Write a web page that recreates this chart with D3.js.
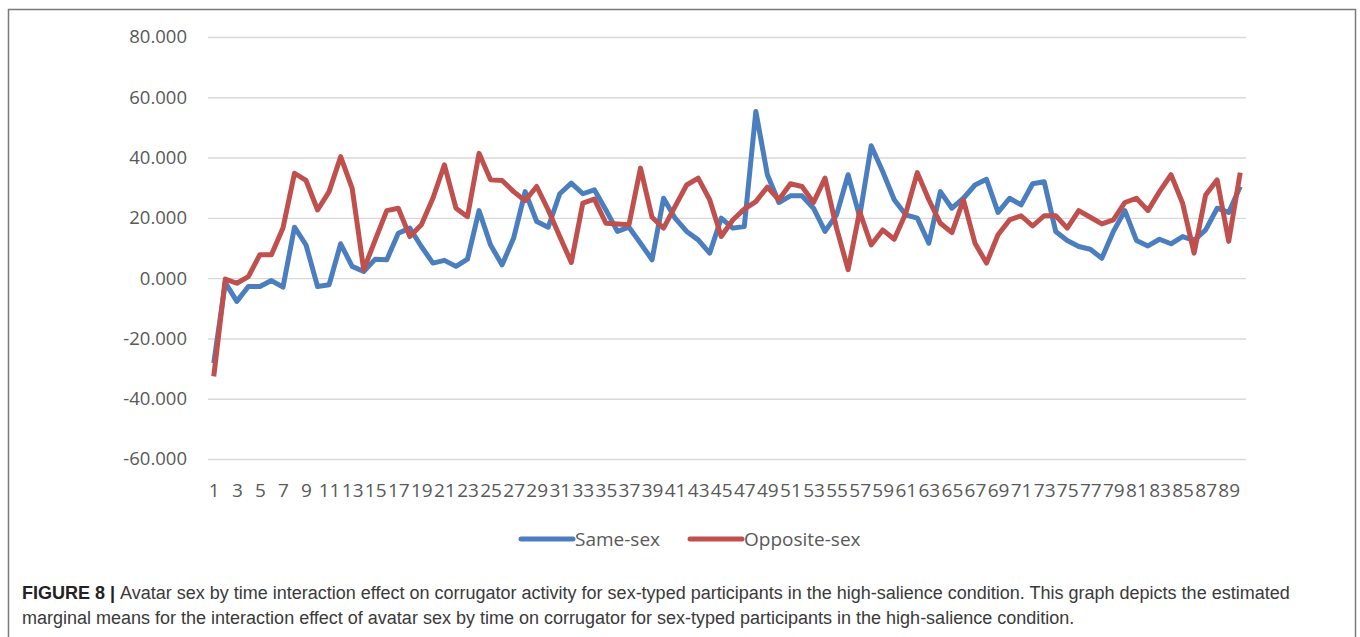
<!DOCTYPE html>
<html lang="en">
<head>
    <meta charset="UTF-8">
    <title>Figure 8</title>
    <script src="https://d3js.org/d3.v7.min.js"></script>
    <style>
        body { margin: 0; background: #fff; }
        .tick text { fill: #595959; font-family: "Open Sans", sans-serif; }
        .caption { font-family: "Liberation Sans", Arial, sans-serif; font-size: 18px; fill: #3a3a3a; }
    </style>
</head>
<body>
    <div id="chart"></div>
    <script>
        // time points 1..90
        const categories = d3.range(1, 91);

        const sameSex = [
            -28.2, -1.5, -7.7, -2.8, -2.8, -0.8, -3.0, 16.9, 11.0, -2.8,
            -2.2, 11.4, 3.9, 2.2, 6.3, 6.1, 14.9, 16.6, 10.5, 5.0,
            5.9, 3.9, 6.3, 22.4, 11.0, 4.4, 13.3, 28.7, 18.8, 16.9,
            28.0, 31.5, 28.0, 29.3, 22.6, 15.5, 16.9, 11.6, 6.1, 26.5,
            19.9, 15.5, 12.7, 8.3, 19.9, 16.6, 17.1, 55.3, 34.3, 25.1,
            27.3, 27.3, 23.2, 15.5, 21.0, 34.3, 20.4, 43.9, 35.4, 26.0,
            21.0, 19.9, 11.6, 28.7, 23.2, 26.5, 30.9, 32.8, 21.8, 26.5,
            24.3, 31.3, 32.0, 15.5, 12.5, 10.5, 9.6, 6.6, 15.5, 22.4,
            12.5, 10.7, 12.9, 11.4, 13.8, 12.5, 16.0, 23.2, 21.8, 30.4
        ];

        const oppositeSex = [
            -32.6, -0.3, -1.7, 0.5, 7.8, 7.8, 16.6, 34.8, 32.4, 22.6,
            28.7, 40.3, 29.8, 2.8, 12.7, 22.4, 23.2, 13.8, 17.7, 26.5,
            37.6, 23.2, 20.4, 41.4, 32.6, 32.4, 28.7, 25.7, 30.4, 22.6,
            13.8, 5.2, 24.9, 26.2, 18.2, 18.0, 17.7, 36.5, 20.2, 16.6,
            23.8, 30.9, 33.2, 26.0, 13.8, 19.3, 22.9, 25.4, 30.2, 26.0,
            31.3, 30.4, 25.1, 33.2, 16.6, 2.8, 22.1, 11.0, 16.0, 12.9,
            21.5, 35.0, 26.0, 18.2, 15.1, 26.0, 11.6, 5.0, 14.4, 19.3,
            20.7, 17.3, 20.7, 20.7, 16.6, 22.4, 20.2, 18.0, 19.3, 25.1,
            26.5, 22.4, 28.7, 34.3, 24.9, 8.3, 27.6, 32.6, 12.2, 35.0
        ];

        const yTicks = [-60, -40, -20, 0, 20, 40, 60, 80];
        const seriesNames = ["Same-sex", "Opposite-sex"];
        const seriesColors = ["#4a7ebf", "#c0504d"];

        const width = 1360, height = 637;
        const plotLeft = 208, plotRight = 1246, plotTop = 37, plotBottom = 459;

        const svg = d3.select("#chart").append("svg")
            .attr("width", width)
            .attr("height", height);

        // outer frame
        svg.append("rect")
            .attr("x", 8.5).attr("y", 9.5)
            .attr("width", 1347).attr("height", 640)
            .attr("fill", "none")
            .attr("stroke", "#7a7a7a")
            .attr("stroke-width", 1.5);

        const x = d3.scalePoint()
            .domain(categories)
            .range([plotLeft, plotRight])
            .padding(0.5);

        const y = d3.scaleLinear()
            .domain([-60, 80])
            .range([plotBottom, plotTop]);

        // plain hyphen for negatives, like Excel
        const fmt = d3.formatLocale({ decimal: ".", thousands: ",", grouping: [3], currency: ["", ""], minus: "-" }).format(".3f");

        // y axis + gridlines
        const yAxis = svg.append("g")
            .attr("transform", `translate(${plotLeft},0)`)
            .call(d3.axisLeft(y)
                .tickValues(yTicks)
                .tickFormat(fmt)
                .tickSize(-(plotRight - plotLeft))
                .tickPadding(21));
        yAxis.select(".domain").remove();
        yAxis.selectAll(".tick line").attr("stroke", "#d9d9d9").attr("stroke-width", 1.4);
        yAxis.selectAll(".tick text").attr("font-size", 18.5);

        // x axis labels (every other one)
        const xAxis = svg.append("g")
            .attr("transform", `translate(0,${plotBottom + 24})`)
            .call(d3.axisBottom(x)
                .tickValues(categories.filter(d => d % 2 === 1))
                .tickSize(0)
                .tickPadding(0));
        xAxis.select(".domain").remove();
        xAxis.selectAll(".tick text").attr("font-size", 19);

        const line = d3.line()
            .x((d, i) => x(categories[i]))
            .y(d => y(d));

        [sameSex, oppositeSex].forEach((s, k) => {
            svg.append("path")
                .datum(s)
                .attr("fill", "none")
                .attr("stroke", seriesColors[k])
                .attr("stroke-width", 5)
                .attr("stroke-linejoin", "round")
                .attr("d", line);
        });

        // legend
        const legendX = [521, 690];
        const legend = svg.append("g");
        seriesNames.forEach((name, k) => {
            legend.append("line")
                .attr("x1", legendX[k]).attr("x2", legendX[k] + 52)
                .attr("y1", 539).attr("y2", 539)
                .attr("stroke", seriesColors[k])
                .attr("stroke-width", 5)
                .attr("stroke-linecap", "round");
            legend.append("text")
                .attr("x", legendX[k] + 54)
                .attr("y", 539)
                .attr("dy", "0.35em")
                .attr("font-family", "Open Sans, sans-serif")
                .attr("font-size", 19)
                .attr("fill", "#595959")
                .text(name);
        });

        // caption
        const cap1 = svg.append("text").attr("class", "caption").attr("x", 22).attr("y", 599);
        cap1.append("tspan").attr("font-weight", "bold").attr("fill", "#222").text("FIGURE 8 | ");
        cap1.append("tspan").text("Avatar sex by time interaction effect on corrugator activity for sex-typed participants in the high-salience condition. This graph depicts the estimated");
        svg.append("text").attr("class", "caption").attr("x", 22).attr("y", 624)
            .text("marginal means for the interaction effect of avatar sex by time on corrugator for sex-typed participants in the high-salience condition.");
    </script>
</body>
</html>
